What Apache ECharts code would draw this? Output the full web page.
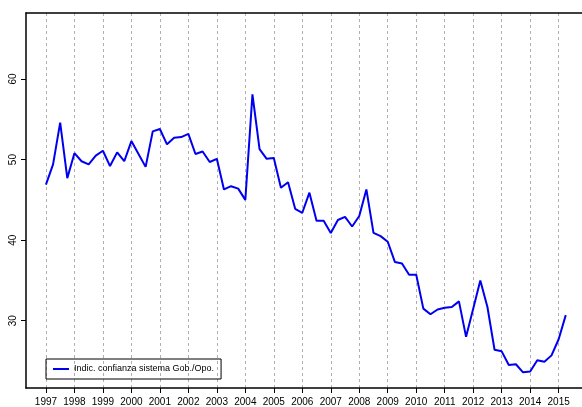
<!DOCTYPE html>
<html>
<head>
<meta charset="utf-8">
<script src="https://cdn.jsdelivr.net/npm/echarts@6/dist/echarts.min.js"></script>
<style>
html,body{margin:0;padding:0;background:#fff;}
#chart{width:582px;height:407px;}
</style>
</head>
<body>
<div id="chart"></div>
<script>
// quarterly index, 1997 Q1 .. 2015 Q2
var startYear = 1997;
var values = [
    46.9, 49.4, 54.6, 47.7,
    50.8, 49.8, 49.4, 50.5,
    51.1, 49.2, 50.9, 49.8,
    52.3, 50.7, 49.1, 53.5,
    53.8, 51.9, 52.7, 52.8,
    53.2, 50.7, 51.0, 49.7,
    50.1, 46.3, 46.7, 46.4,
    45.0, 58.1, 51.3, 50.1,
    50.2, 46.5, 47.2, 43.9,
    43.4, 45.9, 42.4, 42.4,
    40.9, 42.5, 42.9, 41.7,
    43.0, 46.3, 40.9, 40.5,
    39.8, 37.3, 37.1, 35.7,
    35.7, 31.5, 30.8, 31.4,
    31.6, 31.7, 32.4, 28.0,
    31.5, 35.0, 31.7, 26.4,
    26.2, 24.5, 24.6, 23.6,
    23.7, 25.1, 24.9, 25.7,
    27.7, 30.7
];
var yearTicks = [1997,1998,1999,2000,2001,2002,2003,2004,2005,2006,2007,2008,2009,2010,2011,2012,2013,2014,2015];
var valueTicks = [30, 40, 50, 60];
var seriesName = 'Indic. confianza sistema Gob./Opo.';

var points = [];
for (var i = 0; i < values.length; i++) {
    points.push([startYear + i * 0.25, values[i]]);
}

var font = 'Liberation Sans';

var chart = echarts.init(document.getElementById('chart'));
chart.setOption({
    animation: false,
    textStyle: { fontFamily: font },
    grid: { left: 26, right: 0, top: 13, bottom: 19 },
    legend: {
        left: 46,
        top: 359,
        orient: 'vertical',
        data: [seriesName],
        icon: 'rect',
        borderColor: '#000',
        borderWidth: 1,
        borderRadius: 0,
        padding: [3, 7, 3, 7],
        itemWidth: 16,
        itemHeight: 2,
        itemGap: 0,
        textStyle: { fontSize: 9, color: '#000', fontFamily: font, lineHeight: 14 }
    },
    xAxis: [{
        type: 'value',
        min: 1996.3,
        max: 2015.82,
        axisLine: { show: true, onZero: false, lineStyle: { color: '#000', width: 1.5 } },
        axisTick: { show: true, customValues: yearTicks, length: 5, lineStyle: { color: '#000' } },
        axisLabel: {
            customValues: yearTicks,
            margin: 9,
            fontSize: 10,
            color: '#000',
            formatter: function (v) { return String(v); }
        },
        splitLine: {
            show: true,
            customValues: yearTicks,
            lineStyle: { color: '#b0b0b0', type: [3, 3], width: 1 }
        }
    }, {
        type: 'value',
        position: 'top',
        min: 1996.3,
        max: 2015.82,
        axisLine: { show: true, onZero: false, lineStyle: { color: '#000', width: 1.5 } },
        axisTick: { show: false },
        axisLabel: { show: false },
        splitLine: { show: false }
    }],
    yAxis: {
        type: 'value',
        min: 21.65,
        max: 68.2,
        axisLine: { show: true, onZero: false, lineStyle: { color: '#000', width: 1.5 } },
        axisTick: { show: true, customValues: valueTicks, length: 5, lineStyle: { color: '#000' } },
        axisLabel: {
            customValues: valueTicks,
            rotate: 90,
            margin: 8,
            fontSize: 10,
            color: '#000',
            formatter: function (v) { return String(v); }
        },
        splitLine: { show: false }
    },
    series: [{
        name: seriesName,
        type: 'line',
        data: points,
        symbol: 'none',
        lineStyle: { color: '#0000f0', width: 2 },
        itemStyle: { color: '#0000f0' }
    }]
});
</script>
</body>
</html>
